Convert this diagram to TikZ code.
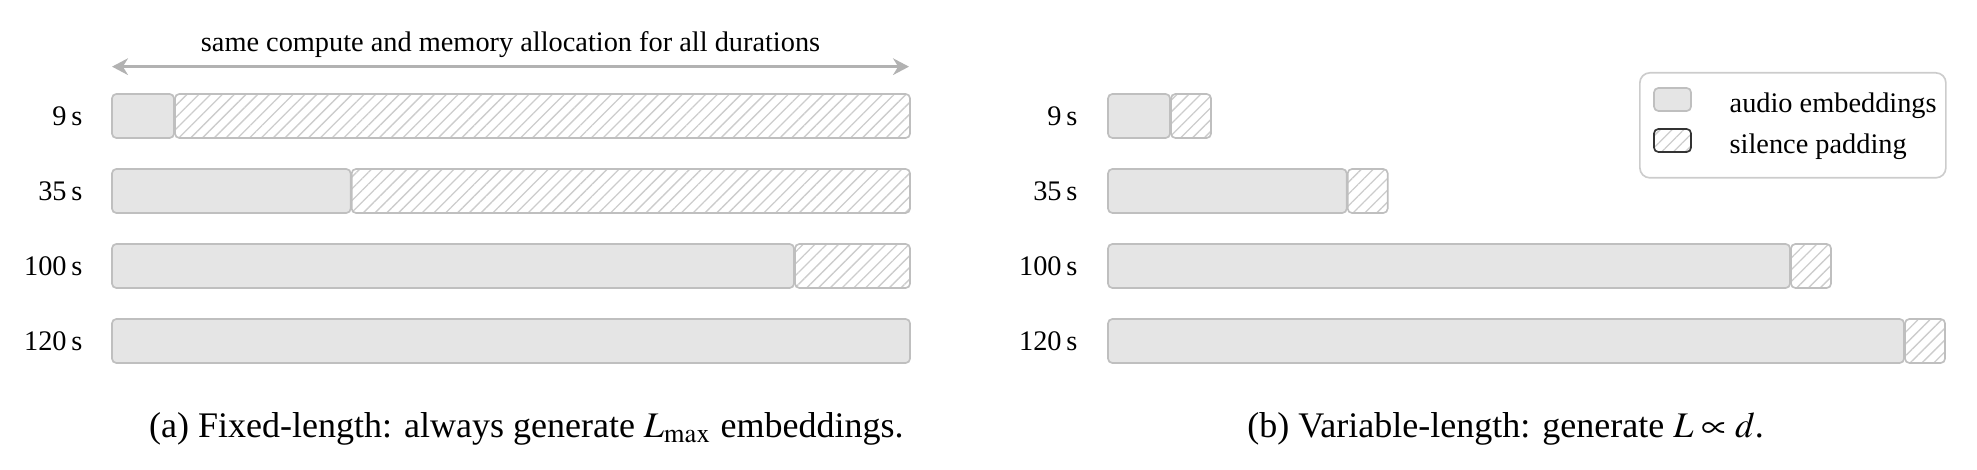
\documentclass[tikz,border=0pt]{standalone}
\usepackage{mathptmx}
\usepackage{fontspec}
\setmainfont{Liberation Serif}
\usetikzlibrary{positioning,patterns.meta,arrows.meta}

\tikzset{
  bar/.style={draw=gray!50, line width=0.5pt, rounded corners=1.3pt, minimum height=13.2pt, inner sep=0pt, outer sep=0pt},
  emb/.style={bar, fill=gray!20},
  pad/.style={bar, pattern={Lines[angle=45,distance=2.5pt,line width=0.4pt]}, pattern color=gray!40},
  dur/.style={font=\fontsize{8.5}{10}\selectfont, inner sep=0pt},
  capt/.style={font=\fontsize{10.8}{13}\selectfont, inner sep=0pt},
}

\begin{document}
\begin{tikzpicture}
  \useasboundingbox (0,0) rectangle (593.1pt,-141pt);

  % (a) fixed length
  \node[emb, minimum width=18.6pt, anchor=west] (a9e) at (33.6pt,-34.8pt) {};
  \node[pad, minimum width=220.5pt, right=0.3pt of a9e] (a9p) {};
  \node[dur, left=8.7pt of a9e] (a9l) {9\,s};
  \node[emb, minimum width=71.6pt, anchor=west] (a35e) at (33.6pt,-57.3pt) {};
  \node[pad, minimum width=167.5pt, right=0.3pt of a35e] (a35p) {};
  \node[dur, left=8.7pt of a35e] (a35l) {35\,s};
  \node[emb, minimum width=204.6pt, anchor=west] (a100e) at (33.6pt,-79.8pt) {};
  \node[pad, minimum width=34.5pt, right=0.3pt of a100e] (a100p) {};
  \node[dur, left=8.7pt of a100e] (a100l) {100\,s};
  \node[emb, minimum width=239.4pt, anchor=west] (a120e) at (33.6pt,-102.3pt) {};
  \node[dur, left=8.7pt of a120e] (a120l) {120\,s};

  \coordinate (spanL) at (33.6pt,-20pt);
  \coordinate (spanR) at (272.7pt,-20pt);
  \draw[gray!60, line width=0.8pt, {Stealth[length=4.8pt,width=5pt]}-{Stealth[length=4.8pt,width=5pt]}]
    (spanL) -- node[dur, above=2.3pt, text=black] (spanlbl) {same compute and memory allocation for all durations} (spanR);

  \node[capt] (capa) at (157.9pt,-128.6pt) {(a) Fixed-length: always generate $L_{\max}$ embeddings.};

  % (b) variable length
  \node[emb, minimum width=18.6pt, anchor=west] (b9e) at (332.4pt,-34.8pt) {};
  \node[pad, minimum width=12pt, right=0.3pt of b9e] (b9p) {};
  \node[dur, left=9pt of b9e] (b9l) {9\,s};
  \node[emb, minimum width=71.6pt, anchor=west] (b35e) at (332.4pt,-57.3pt) {};
  \node[pad, minimum width=12pt, right=0.3pt of b35e] (b35p) {};
  \node[dur, left=9pt of b35e] (b35l) {35\,s};
  \node[emb, minimum width=204.6pt, anchor=west] (b100e) at (332.4pt,-79.8pt) {};
  \node[pad, minimum width=12pt, right=0.3pt of b100e] (b100p) {};
  \node[dur, left=9pt of b100e] (b100l) {100\,s};
  \node[emb, minimum width=238.8pt, anchor=west] (b120e) at (332.4pt,-102.3pt) {};
  \node[pad, minimum width=12pt, right=0.3pt of b120e] (b120p) {};
  \node[dur, left=9pt of b120e] (b120l) {120\,s};

  \node[capt] (capb) at (451.7pt,-128.6pt) {(b) Variable-length: generate $L \propto d$.};

  % legend
  \node[draw=gray!40, line width=0.5pt, rounded corners=3pt, minimum width=91.8pt, minimum height=31.5pt, inner sep=0pt, anchor=north west] (legend) at (491.7pt,-21.6pt) {};
  \node[emb, minimum width=11.1pt, minimum height=6.9pt, anchor=west] (keyemb) at (496.2pt,-29.85pt) {};
  \node[pad, draw=black!80, minimum width=11.1pt, minimum height=6.9pt, anchor=west] (keypad) at (496.2pt,-42.15pt) {};
  \node[dur, right=11.4pt of keyemb, yshift=-1.9pt] (keyembl) {audio embeddings};
  \node[dur, right=11.4pt of keypad, yshift=-1.9pt] (keypadl) {silence padding};
\end{tikzpicture}
\end{document}
